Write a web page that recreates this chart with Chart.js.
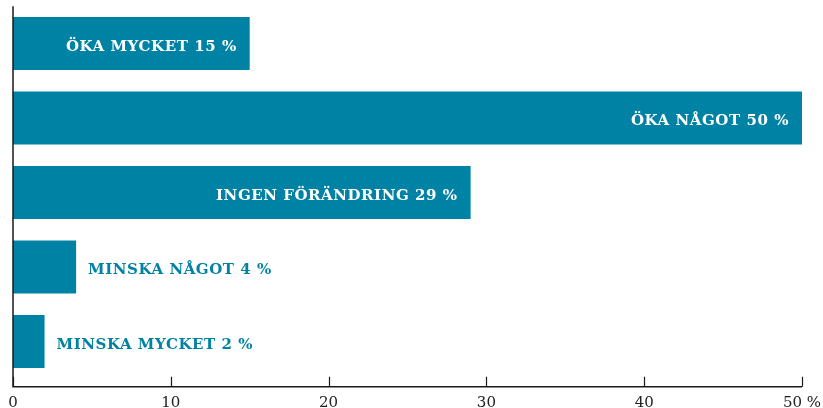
<!DOCTYPE html>
<html>
<head>
<meta charset="utf-8">
<script src="https://cdn.jsdelivr.net/npm/chart.js@4"></script>
<style>
html,body{margin:0;padding:0;background:#fff;}
#wrap{width:823px;height:408px;position:relative;}
</style>
</head>
<body>
<div id="wrap"><canvas id="c" width="823" height="408"></canvas></div>
<script>
const categories = ['ÖKA MYCKET', 'ÖKA NÅGOT', 'INGEN FÖRÄNDRING', 'MINSKA NÅGOT', 'MINSKA MYCKET'];
const values = [15, 50, 29, 4, 2];
const tickValues = [0, 10, 20, 30, 40, 50];
const unit = '%';

const BAR = '#0082a4';
const AXIS = '#1a1a1a';
const SERIF = '"DejaVu Serif", "Liberation Serif", serif';

const axisPlugin = {
  id: 'axisPlugin',
  afterDatasetsDraw(chart) {
    const ctx = chart.ctx;
    const x = chart.scales.x;
    const area = chart.chartArea;
    const axisY = area.bottom + 8;
    ctx.save();
    ctx.strokeStyle = AXIS;
    ctx.lineWidth = 1.5;
    ctx.beginPath();
    ctx.moveTo(x.getPixelForValue(0), area.top);
    ctx.lineTo(x.getPixelForValue(0), axisY);
    ctx.lineTo(x.getPixelForValue(tickValues[tickValues.length - 1]), axisY);
    ctx.stroke();
    ctx.lineWidth = 1.2;
    tickValues.forEach(v => {
      const px = Math.round(x.getPixelForValue(v)) + 0.5;
      ctx.beginPath();
      ctx.moveTo(px, axisY);
      ctx.lineTo(px, axisY - 10);
      ctx.stroke();
    });
    // bar labels
    ctx.font = 'bold 15px ' + SERIF;
    try { ctx.letterSpacing = '0.55px'; } catch (e) {}
    ctx.textBaseline = 'alphabetic';
    const meta = chart.getDatasetMeta(0);
    meta.data.forEach((bar, i) => {
      const txt = categories[i] + ' ' + values[i] + ' ' + unit;
      const w = ctx.measureText(txt).width;
      const barW = bar.x - bar.base;
      const y = bar.y + 7;
      if (w + 26 <= barW) {
        ctx.fillStyle = '#ffffff';
        ctx.textAlign = 'right';
        ctx.fillText(txt, bar.x - 13, y);
      } else {
        ctx.fillStyle = BAR;
        ctx.textAlign = 'left';
        ctx.fillText(txt, bar.x + 12, y);
      }
    });
    ctx.restore();
  }
};

new Chart(document.getElementById('c'), {
  type: 'bar',
  data: {
    labels: categories,
    datasets: [{
      data: values,
      backgroundColor: BAR,
      borderWidth: 0,
      barPercentage: 0.711,
      categoryPercentage: 1
    }]
  },
  options: {
    indexAxis: 'y',
    responsive: false,
    animation: false,
    devicePixelRatio: 1,
    layout: { padding: { left: 13, right: 21, top: 6.25, bottom: 0 } },
    plugins: { legend: { display: false }, tooltip: { enabled: false } },
    scales: {
      y: { display: false },
      x: {
        min: 0, max: 50,
        grid: { display: false },
        border: { display: false },
        afterFit(scale) { scale.height = 29.25; scale.paddingLeft = 0; scale.paddingRight = 0; },
        afterBuildTicks(scale) { scale.ticks = tickValues.map(v => ({ value: v })); },
        ticks: {
          padding: 7,
          maxRotation: 0,
          autoSkip: false,
          color: '#222',
          font: { family: SERIF, size: 15 },
          callback: (v) => v === 50 ? v + ' ' + unit : String(v)
        }
      }
    }
  },
  plugins: [axisPlugin]
});
</script>
</body>
</html>
